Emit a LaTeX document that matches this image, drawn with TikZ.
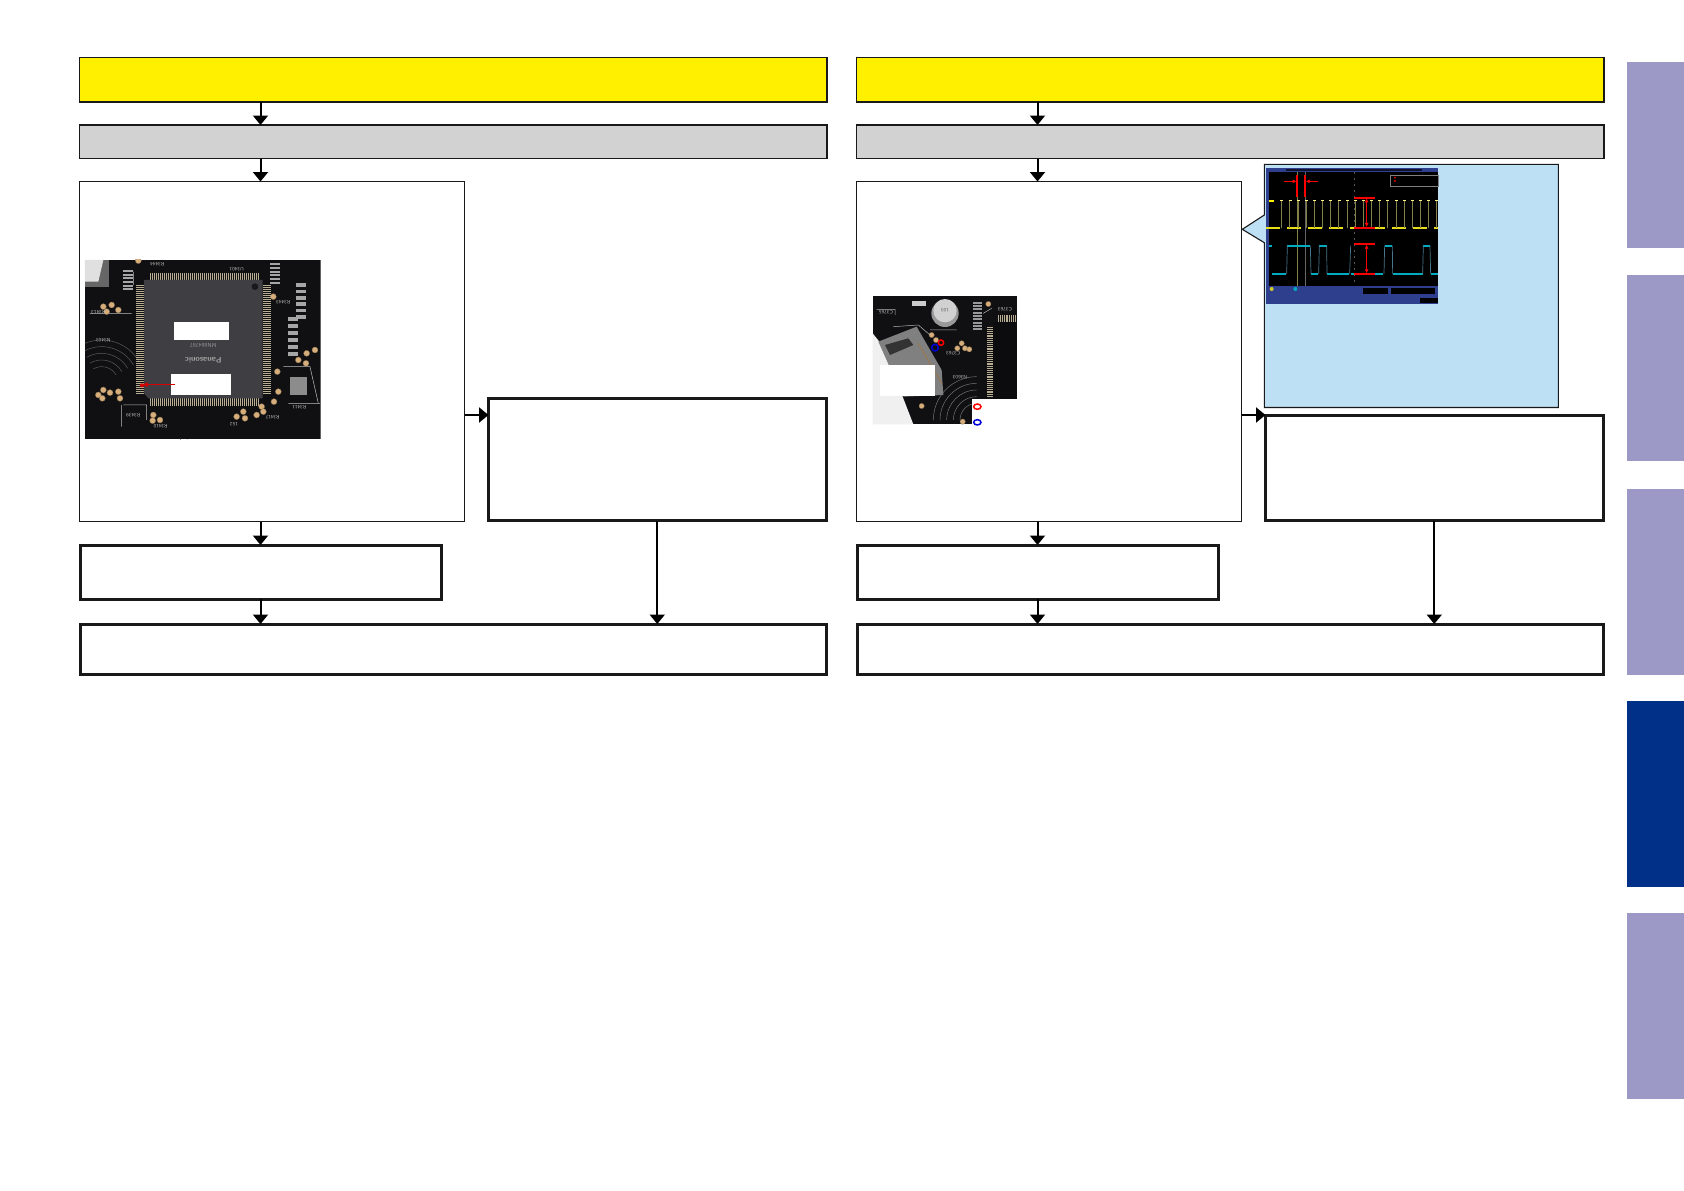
\documentclass[tikz,border=0pt]{standalone}
\usepackage{tikz}
\usetikzlibrary{arrows.meta}
\definecolor{bannerYellow}{HTML}{FFF000}
\definecolor{stepGray}{HTML}{D2D2D2}
\definecolor{noteBlue}{HTML}{BEE0F5}
\definecolor{tabIdle}{HTML}{9C99C6}
\definecolor{tabActive}{HTML}{003087}
\definecolor{boardDark}{HTML}{101012}
\definecolor{chipGray}{HTML}{3E3E43}
\definecolor{pinTan}{HTML}{B8AE94}
\definecolor{padTan}{HTML}{D6AE7C}
\definecolor{scopeBlue}{HTML}{2E3F8E}
\tikzset{
  thinbox/.style={draw=black!90,line width=1.1pt,inner sep=0pt,outer sep=0pt,anchor=north west},
  thickbox/.style={thinbox,line width=3pt,fill=white},
  flow/.style={-{Triangle[width=15pt,length=9.5pt]},line width=2pt},
  silk/.style={font=\sffamily\fontsize{5}{5}\selectfont,text=white!72!black,inner sep=0pt},
  pad/.style={fill=padTan,draw=padTan!60!black,line width=0.3pt},
  ring/.style={draw=#1,line width=1.5pt,fill=none},
}
\begin{document}
\begin{tikzpicture}[x=1pt,y=-1pt,>=latex]
        \useasboundingbox (0,0) rectangle (1684,1191);
        % side tabs
        \foreach \tabtop/\tabcol in {62/tabIdle,275/tabIdle,489/tabIdle,701/tabActive,913/tabIdle}
          \fill[\tabcol] (1627,\tabtop) rectangle ++(57,186);
        % the two columns, same boxes moved across
        \foreach \col/\ox/\thicktop/\thickh in {a/0/398.5/122,b/777/415.5/105} {
          \node[thinbox,fill=bannerYellow,minimum width=747.5pt,minimum height=44.5pt] (yellow\col) at (79.5+\ox,57.5) {};
          \node[thinbox,fill=stepGray,minimum width=747.5pt,minimum height=33.5pt] (gray\col) at (79.5+\ox,125) {};
          \node[thinbox,fill=white,minimum width=385pt,minimum height=340pt] (white\col) at (79.5+\ox,181.5) {};
          \node[thickbox,minimum width=337.5pt,minimum height=\thickh pt] (side\col) at (488.5+\ox,\thicktop) {};
          \node[thickbox,minimum width=361pt,minimum height=54pt] (lower\col) at (80+\ox,545) {};
          \node[thickbox,minimum width=746.5pt,minimum height=50.5pt] (final\col) at (80+\ox,624) {};
          \coordinate (turn\col) at (0,415);
          \draw[flow] (yellow\col.south -| lower\col.north) -- (gray\col.north -| lower\col.north);
          \draw[flow] (gray\col.south -| lower\col.north) -- (white\col.north -| lower\col.north);
          \draw[flow] (white\col.south -| lower\col.north) -- (lower\col.north);
          \draw[flow] (lower\col.south) -- (final\col.north -| lower\col.south);
          \draw[flow] (white\col.east |- turn\col) -- (side\col.west |- turn\col);
          \draw[flow] (side\col.south) -- (final\col.north -| side\col.south);
        }
        % note with pointer
        \draw[draw=black!90,line width=1.1pt,fill=noteBlue] (1264.3,164.3) -- (1558.3,164.3) -- (1558.3,407.5) -- (1264.3,407.5)
          -- (1264.3,242.7) -- (1242.3,229.3) -- (1264.3,215) -- cycle;
        % board photo, left
        \begin{scope}[shift={(70,170)},x=0.3333pt,y=-0.3333pt]
          \clip (45,270) rectangle (752,808);
          \fill[boardDark] (45,270) rectangle (752,808);
          \fill[black!60] (45,270) rectangle (118,350);
          \fill[black!12] (45,270) -- (100,270) -- (85,335) -- (45,335) -- cycle;
          \foreach \r in {60,80,100,120,140}
            \draw[black!60,line width=0.5pt] (470,830) ++(190:\r) arc (190:60:\r);
          \foreach \r in {50,70,90,110,130}
            \draw[black!65,line width=0.5pt] (95,640) ++(240:\r) arc (240:330:\r);
          \foreach \sx/\sy/\sh in {158/300/55,600/280/55,678/340/95,655/440/105} {
            \foreach \k in {0,1,2,3,4,5}
              \fill[black!35] (\sx,\sy+\k*\sh/5) rectangle ++(30,\sh/9);
          }
          \draw[white!75!black,line width=0.5pt] (190,305) -- (190,345) (60,430) -- (185,430) (640,590) -- (720,590) -- (745,700) (655,700) -- (750,700) (160,705) -- (230,705) -- (230,750) (155,705) -- (155,770);
          \foreach \ptx/\pty in {100/410,125/405,145/420,110/425,610/380,710/550,735/540,685/570,708/580,622/605,625/665,612/695,250/735,270/750,248/752,500/740,520/725,525/745,575/710,560/735,580/725,100/660,85/675,97/685,120/668,145/665,150/685,205/272}
            \fill[pad] (\ptx,\pty) circle (9);
          \fill[black!45] (660,620) rectangle (712,675);
          \foreach \i in {0,...,54} {
            \draw[pinTan,line width=0.5pt] (198,345+\i*6) -- (222,345+\i*6);
            \draw[pinTan,line width=0.5pt] (578,345+\i*6) -- (602,345+\i*6);
            \draw[pinTan,line width=0.5pt] (240+\i*6,308) -- (240+\i*6,330);
            \draw[pinTan,line width=0.5pt] (240+\i*6,685) -- (240+\i*6,708);
          }
          \fill[chipGray] (222,330) -- (578,330) -- (578,685) -- (235,685) -- (222,670) -- cycle;
          \fill[black!60!chipGray] (555,350) circle (10);
          \node[rotate=180,text=black!35,font=\sffamily\bfseries\fontsize{8}{8}\selectfont] (chipmaker) at (400,570) {Panasonic};
          \node[rotate=180,text=black!40,font=\sffamily\fontsize{5.5}{5.5}\selectfont] (chipname) at (400,525) {MN864787};
          \fill[white] (312,456) rectangle (477,510);
          \fill[white] (303,612) rectangle (483,675);
          \draw[red!85!black,line width=1.1pt,-{Latex[length=6pt,width=5pt]}] (315,644) -- (215,644);
          \fill[red!85!black] (216,646) circle (6);
          \foreach \sx/\sy/\st in {500/298/U3401,100/510/N3403,85/428/R3413,640/398/R3443,688/712/R3411,262/283/R3444,272/770/R3410,492/762/152,190/735/R3439,608/742/R3417}
            \node[silk,rotate=180] at (\sx,\sy) {\st};
        \end{scope}
        % board photo, right
        \begin{scope}[shift={(850,280)},x=0.3333pt,y=-0.3333pt]
          \fill[boardDark] (68,48) rectangle (500,357);
          \fill[boardDark] (68,357) rectangle (365,433);
          \fill[black!6] (68,160) -- (100,200) -- (190,433) -- (68,433) -- cycle;
          \foreach \r in {50,70,90,110,130}
            \draw[black!55,line width=0.5pt] (380,420) ++(180:\r) arc (180:270:\r);
          \fill[black!50] (85,185) -- (200,140) -- (275,270) -- (280,345) -- (160,350) -- (150,330) -- cycle;
          \fill[black!80] (105,195) -- (175,175) -- (190,195) -- (120,225) -- cycle;
          \draw[padTan!70!black,line width=1.2pt] (205,190) -- (275,310);
          \fill[black!40] (285,100) circle (41);
          \fill[black!18] (285,92) circle (35);
          \node[text=black!60,font=\sffamily\fontsize{5}{5}\selectfont,rotate=180] (capvalue) at (285,90) {100};
          \fill[black!20] (185,62) rectangle (228,78);
          \foreach \ptx/\pty in {245/165,258/180,335/190,345/205,358/208,322/205,415/72,215/378,338/425}
            \fill[pad] (\ptx,\pty) circle (8);
          \foreach \k in {0,...,8}
            \fill[black!40] (368,65+\k*10) rectangle ++(28,6);
          \fill[black!25!boardDark] (430,125) rectangle (500,357);
          \foreach \i in {0,...,37}
            \draw[pinTan,line width=0.5pt] (412,142+\i*5.6) -- (430,142+\i*5.6);
          \foreach \i in {0,...,9}
            \draw[pinTan,line width=0.5pt] (445+\i*5.6,105) -- (445+\i*5.6,125);
          \draw[white!70!black,line width=0.5pt] (80,88) -- (135,88) -- (135,105) (130,140) -- (205,135) -- (240,165) (240,150) -- (320,150) (400,100) -- (425,85);
          \fill[white] (90,255) rectangle (255,348);
          \fill[white] (365,357) rectangle (500,440);
          \draw[ring=red] (273,188) circle (8);
          \draw[ring=blue!85!black] (255,203) circle (10);
          \draw[ring=red] (382,380) ellipse (11 and 8);
          \draw[ring=blue!85!black] (382,427) ellipse (11 and 8);
          \foreach \sx/\sy/\st in {330/292/N3603,310/219/C3763,108/96/C3765,465/88/C3763}
            \node[silk,rotate=180] at (\sx,\sy) {\st};
        \end{scope}
        % scope trace
        \begin{scope}[shift={(1230,155)},x=0.3333pt,y=-0.3333pt]
          \fill[scopeBlue] (108,40) rectangle (625,447);
          \fill[black] (118,50) rectangle (625,392);
          \fill[black!70!scopeBlue] (168,42) rectangle (575,48);
          \fill[black] (570,430) rectangle (625,445);
          \foreach \bx in {400,482,540}
            \fill[black] (\bx,398) rectangle ++(75,18);
          \draw[black!50,line width=0.5pt] (480,60) rectangle (625,95);
          \fill[red] (495,68) circle (3) (495,78) circle (3);
          \draw[yellow!45!black,line width=0.6pt] (203,50) -- (203,392);
          \draw[black!60,line width=0.4pt] (226,50) -- (226,392);
          \draw[black!65,dash pattern=on 2pt off 4pt,line width=0.4pt] (372,50) -- (372,392);
          \draw[yellow!90!black,line width=2pt,dash pattern=on 14pt off 7pt] (108,220) -- (625,220);
          \foreach \i in {0,...,19} {
            \draw[yellow!45!black,line width=0.8pt] (155+\i*24.5,220) -- (155+\i*24.5,137);
            \draw[yellow!50!white,line width=1.6pt] (151+\i*24.5,137) -- (160+\i*24.5,137);
          }
          \fill[yellow] (117,135) rectangle (133,141);
          \draw[cyan!70!green,line width=1.9pt] (118,272) -- (126,272);
          \draw[cyan!70!green,line width=1.9pt] (126,357) -- (168,357) (172,272) -- (240,272) (243,357) -- (265,357) (268,272) -- (290,272) (291,357) -- (358,357) (362,357) -- (460,357) (464,272) -- (487,272) (488,357) -- (578,357) (580,272) -- (600,272) (602,357) -- (625,357);
          \draw[cyan!50!black,line width=0.7pt] (170,357) -- (172,272) (241,272) -- (243,357) (266,357) -- (268,272) (290,272) -- (291,357) (359,357) -- (362,272) (462,357) -- (464,272) (487,272) -- (488,357) (578,357) -- (580,272) (600,272) -- (602,357);
          \fill[yellow!80!black] (125,402) circle (6);
          \fill[cyan!70!green] (196,402) circle (6);
          \draw[red,line width=2.2pt] (201,60) -- (201,125) (226,60) -- (226,125);
          \draw[red,line width=0.8pt,-{Latex[length=4pt,width=4pt]}] (163,79) -- (200,79);
          \draw[red,line width=0.8pt,-{Latex[length=4pt,width=4pt]}] (263,79) -- (227,79);
          \draw[red,line width=2pt] (372,128) -- (435,128) (372,218) -- (435,218) (372,267) -- (435,267) (372,357) -- (435,357);
          \draw[red,line width=0.8pt,{Latex[length=4pt,width=4pt]}-{Latex[length=4pt,width=4pt]}] (410,130) -- (410,216);
          \draw[red,line width=0.8pt,{Latex[length=4pt,width=4pt]}-{Latex[length=4pt,width=4pt]}] (410,269) -- (410,355);
        \end{scope}
\end{tikzpicture}
\end{document}
